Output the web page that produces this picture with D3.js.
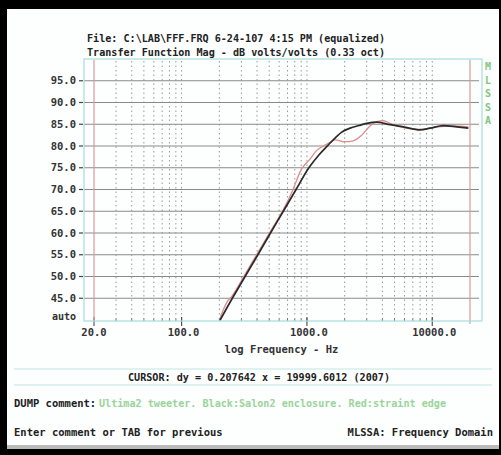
<!DOCTYPE html>
<meta charset="utf-8">
<script src="https://d3js.org/d3.v7.min.js"></script>
<style>
body { margin: 0; background: #000; }
text { font-family: "DejaVu Sans Mono", monospace; font-weight: bold; }
</style>
<div id="my_dataviz"></div>
<script>

// Black: Salon2 enclosure
var freqBlack = [203, 254, 321, 406, 512, 648, 819, 1036, 1250, 1474, 1700, 1896, 2210, 2600, 3002, 3608, 4606, 5880, 7996, 9605, 12270, 15690, 19420]
var dbBlack   = [40.0, 45.0, 50.0, 55.0, 60.0, 65.0, 70.0, 75.0, 78.0, 80.2, 82.0, 83.2, 84.1, 84.7, 85.2, 85.5, 84.9, 84.4, 83.7, 84.1, 84.7, 84.4, 84.1]

// Red: straint edge
var freqRed = [203, 229, 254, 321, 406, 512, 648, 754, 898, 1058, 1198, 1352, 1520, 1676, 2014, 2346, 2737, 3189, 3608, 4074, 4606, 5538, 7996, 10866, 14660, 19420]
var dbRed   = [40.5, 44.0, 45.6, 50.5, 55.5, 60.4, 65.4, 69.2, 74.5, 77.0, 79.0, 80.0, 80.8, 81.4, 81.0, 81.2, 82.5, 84.6, 85.6, 85.8, 85.2, 84.4, 83.8, 84.4, 84.6, 84.4]

var yTicks = [95, 90, 85, 80, 75, 70, 65, 60, 55, 50, 45]
var xLabels = [20, 100, 1000, 10000]
var cursorFreqs = [20, 20000]

var width = 501, height = 455

var svg = d3.select("#my_dataviz")
  .append("svg")
    .attr("width", width)
    .attr("height", height)

svg.append("rect").attr("width", width).attr("height", height).attr("fill", "#000")
svg.append("rect").attr("x", 7).attr("y", 9).attr("width", 492).attr("height", 440).attr("fill", "#fdfefe")
svg.append("rect").attr("x", 7).attr("y", 445).attr("width", 492).attr("height", 4).attr("fill", "#bbb")

var x = d3.scaleLog().domain([20, 20000]).range([94, 470])
var y = d3.scaleLinear().domain([40, 100]).range([320, 59])

var plotLeft = 84, plotRight = 482, plotTop = 59, plotBottom = 321

// titles
svg.append("text").attr("x", 87).attr("y", 42).attr("font-size", 10.5)
  .attr("textLength", 298).attr("lengthAdjust", "spacingAndGlyphs").attr("fill", "#222")
  .text("File: C:\\LAB\\FFF.FRQ 6-24-107 4:15 PM (equalized)")
svg.append("text").attr("x", 87).attr("y", 56).attr("font-size", 10.5)
  .attr("textLength", 298).attr("lengthAdjust", "spacingAndGlyphs").attr("fill", "#222")
  .text("Transfer Function Mag - dB volts/volts (0.33 oct)")

// vertical dotted grid
var gridFreqs = x.copy().domain([x.invert(plotLeft), x.invert(plotRight)]).ticks()
  .filter(function(d){ return cursorFreqs.indexOf(Math.round(d)) < 0 })
svg.selectAll(".vgrid").data(gridFreqs).enter().append("line")
  .attr("x1", function(d){ return x(d) }).attr("x2", function(d){ return x(d) })
  .attr("y1", plotTop + 2).attr("y2", plotBottom - 4)
  .attr("stroke", "#999").attr("stroke-width", 1).attr("stroke-dasharray", "1.5,3")

// small ticks along the bottom
svg.selectAll(".btick").data(gridFreqs).enter().append("line")
  .attr("x1", function(d){ return x(d) }).attr("x2", function(d){ return x(d) })
  .attr("y1", plotBottom - 3).attr("y2", plotBottom)
  .attr("stroke", "#777").attr("stroke-width", 1)
svg.selectAll(".bigtick").data(xLabels).enter().append("line")
  .attr("x1", function(d){ return x(d) }).attr("x2", function(d){ return x(d) })
  .attr("y1", plotBottom - 4).attr("y2", plotBottom + 5)
  .attr("stroke", "#555").attr("stroke-width", 1.2)

// horizontal grid
svg.selectAll(".hgrid").data(yTicks).enter().append("line")
  .attr("x1", plotLeft).attr("x2", plotRight - 3)
  .attr("y1", function(d){ return y(d) }).attr("y2", function(d){ return y(d) })
  .attr("stroke", "#8a8a8a").attr("stroke-width", 1)
svg.selectAll(".ytick").data(yTicks).enter().append("line")
  .attr("x1", 79).attr("x2", 83)
  .attr("y1", function(d){ return y(d) }).attr("y2", function(d){ return y(d) })
  .attr("stroke", "#444").attr("stroke-width", 1.2)
svg.selectAll(".ylab").data(yTicks).enter().append("text")
  .attr("x", 76).attr("y", function(d){ return y(d) + 3.5 })
  .attr("text-anchor", "end").attr("font-size", 10.5).attr("fill", "#333")
  .text(function(d){ return d.toFixed(1) })
svg.append("text").attr("x", 76).attr("y", 320).attr("text-anchor", "end")
  .attr("font-size", 10).attr("fill", "#333").text("auto")

// red cursor lines
svg.selectAll(".cursor").data(cursorFreqs).enter().append("line")
  .attr("x1", function(d){ return x(d) }).attr("x2", function(d){ return x(d) })
  .attr("y1", plotTop + 1).attr("y2", plotBottom + 3)
  .attr("stroke", "#d99a9a").attr("stroke-width", 1.2)

// frame
svg.append("rect").attr("x", plotLeft).attr("y", plotTop)
  .attr("width", plotRight - plotLeft).attr("height", plotBottom - plotTop)
  .attr("fill", "none").attr("stroke", "#a6dcdc").attr("stroke-width", 1.2)

// x labels
svg.selectAll(".xlab").data(xLabels).enter().append("text")
  .attr("x", function(d){ return x(d) + (d > 20 ? 2 : 0) }).attr("y", 335.5)
  .attr("text-anchor", "middle").attr("font-size", 10.5).attr("fill", "#333")
  .text(function(d){ return d.toFixed(1) })
svg.append("text").attr("x", 281.5).attr("y", 353).attr("text-anchor", "middle")
  .attr("font-size", 10.5).attr("fill", "#333").text("log Frequency - Hz")

// MLSSA vertical
svg.selectAll(".mlssa").data("MLSSA".split("")).enter().append("text")
  .attr("x", 488).attr("y", function(d, i){ return 70 + i * 13.6 })
  .attr("text-anchor", "middle").attr("font-size", 10).attr("fill", "#7cc77c")
  .text(function(d){ return d })

// curves
var line = d3.line()
  .x(function(d){ return x(d[0]) })
  .y(function(d){ return y(d[1]) })
  .curve(d3.curveMonotoneX)

svg.append("path")
  .datum(d3.zip(freqRed, dbRed))
  .attr("d", line).attr("fill", "none")
  .attr("stroke", "#e08c8c").attr("stroke-width", 1.3)
svg.append("path")
  .datum(d3.zip(freqBlack, dbBlack))
  .attr("d", line).attr("fill", "none")
  .attr("stroke", "#2a2a2a").attr("stroke-width", 1.7)

// status area
svg.selectAll(".sep").data([369, 385]).enter().append("line")
  .attr("x1", 14).attr("x2", 492).attr("y1", function(d){ return d }).attr("y2", function(d){ return d })
  .attr("stroke", "#bfe6e6").attr("stroke-width", 1.2)
svg.append("text").attr("x", 259).attr("y", 380.5).attr("text-anchor", "middle")
  .attr("font-size", 10.5).attr("fill", "#222")
  .attr("textLength", 262).attr("lengthAdjust", "spacingAndGlyphs")
  .text("CURSOR: dy = 0.207642 x = 19999.6012 (2007)")
svg.append("text").attr("x", 14).attr("y", 407).attr("font-size", 10.5).attr("fill", "#222")
  .text("DUMP comment:")
svg.append("text").attr("x", 99).attr("y", 407).attr("font-size", 10.5).attr("fill", "#9ad49a")
  .attr("textLength", 347).attr("lengthAdjust", "spacingAndGlyphs")
  .text("Ultima2 tweeter. Black:Salon2 enclosure. Red:straint edge")
svg.append("text").attr("x", 14).attr("y", 435.5).attr("font-size", 10.5).attr("fill", "#222")
  .text("Enter comment or TAB for previous")
svg.append("text").attr("x", 493).attr("y", 435.5).attr("text-anchor", "end")
  .attr("font-size", 10.5).attr("fill", "#222")
  .text("MLSSA: Frequency Domain")

</script>
